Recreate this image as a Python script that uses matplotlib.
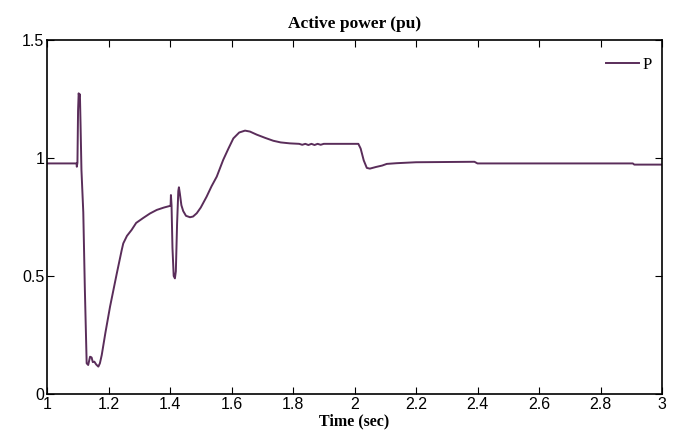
import matplotlib
matplotlib.use("Agg")
import matplotlib.pyplot as plt
from matplotlib import font_manager

# ---- data ----
t = [1.0, 1.096, 1.097, 1.099, 1.101, 1.103, 1.105, 1.107, 1.109, 1.112, 1.118, 1.123,
     1.129, 1.134, 1.140, 1.145, 1.149, 1.154, 1.160, 1.167, 1.172, 1.178, 1.19, 1.205,
     1.227, 1.243, 1.248, 1.26, 1.275, 1.29, 1.313, 1.335, 1.357, 1.38, 1.400, 1.402,
     1.403, 1.405, 1.408, 1.412, 1.416, 1.419, 1.423, 1.427, 1.429, 1.432, 1.437, 1.443,
     1.452, 1.465, 1.475, 1.487, 1.50, 1.519, 1.535, 1.552, 1.573, 1.59, 1.606, 1.625,
     1.644, 1.66, 1.682, 1.71, 1.736, 1.76, 1.79, 1.82, 1.83, 1.84, 1.85, 1.86, 1.87,
     1.88, 1.89, 1.90, 2.0125, 2.02, 2.03, 2.04, 2.05, 2.07, 2.09, 2.105, 2.137, 2.2,
     2.39, 2.40, 2.905, 2.91, 3.0]
p = [0.977, 0.977, 0.963, 0.98, 1.2, 1.274, 1.26, 1.27, 1.15, 0.95, 0.77, 0.45,
     0.13, 0.123, 0.158, 0.155, 0.135, 0.137, 0.125, 0.116, 0.13, 0.165, 0.26, 0.37,
     0.511, 0.61, 0.638, 0.67, 0.695, 0.725, 0.746, 0.765, 0.78, 0.79, 0.797, 0.80,
     0.843, 0.80, 0.62, 0.5, 0.49, 0.52, 0.72, 0.86, 0.876, 0.85, 0.80, 0.775,
     0.755, 0.749, 0.752, 0.766, 0.79, 0.836, 0.88, 0.921, 0.992, 1.04, 1.083, 1.108,
     1.116, 1.112, 1.099, 1.085, 1.073, 1.066, 1.062, 1.06, 1.056, 1.06, 1.055, 1.06, 1.055,
     1.06, 1.056, 1.06, 1.06, 1.04, 0.99, 0.958, 0.955, 0.962, 0.968, 0.975, 0.978, 0.982,
     0.984, 0.977, 0.977, 0.972, 0.972]
xticks = [1, 1.2, 1.4, 1.6, 1.8, 2, 2.2, 2.4, 2.6, 2.8, 3]
xtick_labels = ["1", "1.2", "1.4", "1.6", "1.8", "2", "2.2", "2.4", "2.6", "2.8", "3"]
yticks = [0, 0.5, 1, 1.5]
ytick_labels = ["0", "0.5", "1", "1.5"]
series_name = "P"
title = "Active power (pu)"
xlabel = "Time (sec)"

names = {f.name for f in font_manager.fontManager.ttflist}
narrow = "Liberation Sans Narrow" in names
tick_font = "Liberation Sans Narrow" if narrow else "Liberation Sans"
tick_size = 13 if narrow else 11.5
serif = "Liberation Serif"

fig = plt.figure(figsize=(6.8, 4.42), dpi=100)
ax = fig.add_axes([47/680, 1-394/442, (662-47)/680, (394-40)/442])

ax.plot(t, p, color="#5a2d5a", lw=1.4, label=series_name)
ax.set_xlim(1, 3)
ax.set_ylim(0, 1.5)
ax.set_xticks(xticks)
ax.set_xticklabels(xtick_labels, fontfamily=tick_font, fontsize=tick_size)
ax.set_yticks(yticks)
ax.set_yticklabels(ytick_labels, fontfamily=tick_font, fontsize=tick_size)
ax.tick_params(direction="in", length=5, width=0.8, top=True, right=True, pad=2)
ax.tick_params(axis="x", pad=2)
for s in ax.spines.values():
    s.set_linewidth(1.2)

ax.set_title(title, fontfamily=serif, fontweight="bold", fontsize=12.5, pad=9)
ax.set_xlabel(xlabel, fontfamily=serif, fontweight="bold", fontsize=11.5, labelpad=1)

leg = ax.legend(loc="upper right", bbox_to_anchor=(1.0, 0.98), frameon=False,
                prop={"family": serif, "size": 12},
                handlelength=2.0, handletextpad=0.2, borderaxespad=0.2)

fig.savefig("out.png", dpi=100)
